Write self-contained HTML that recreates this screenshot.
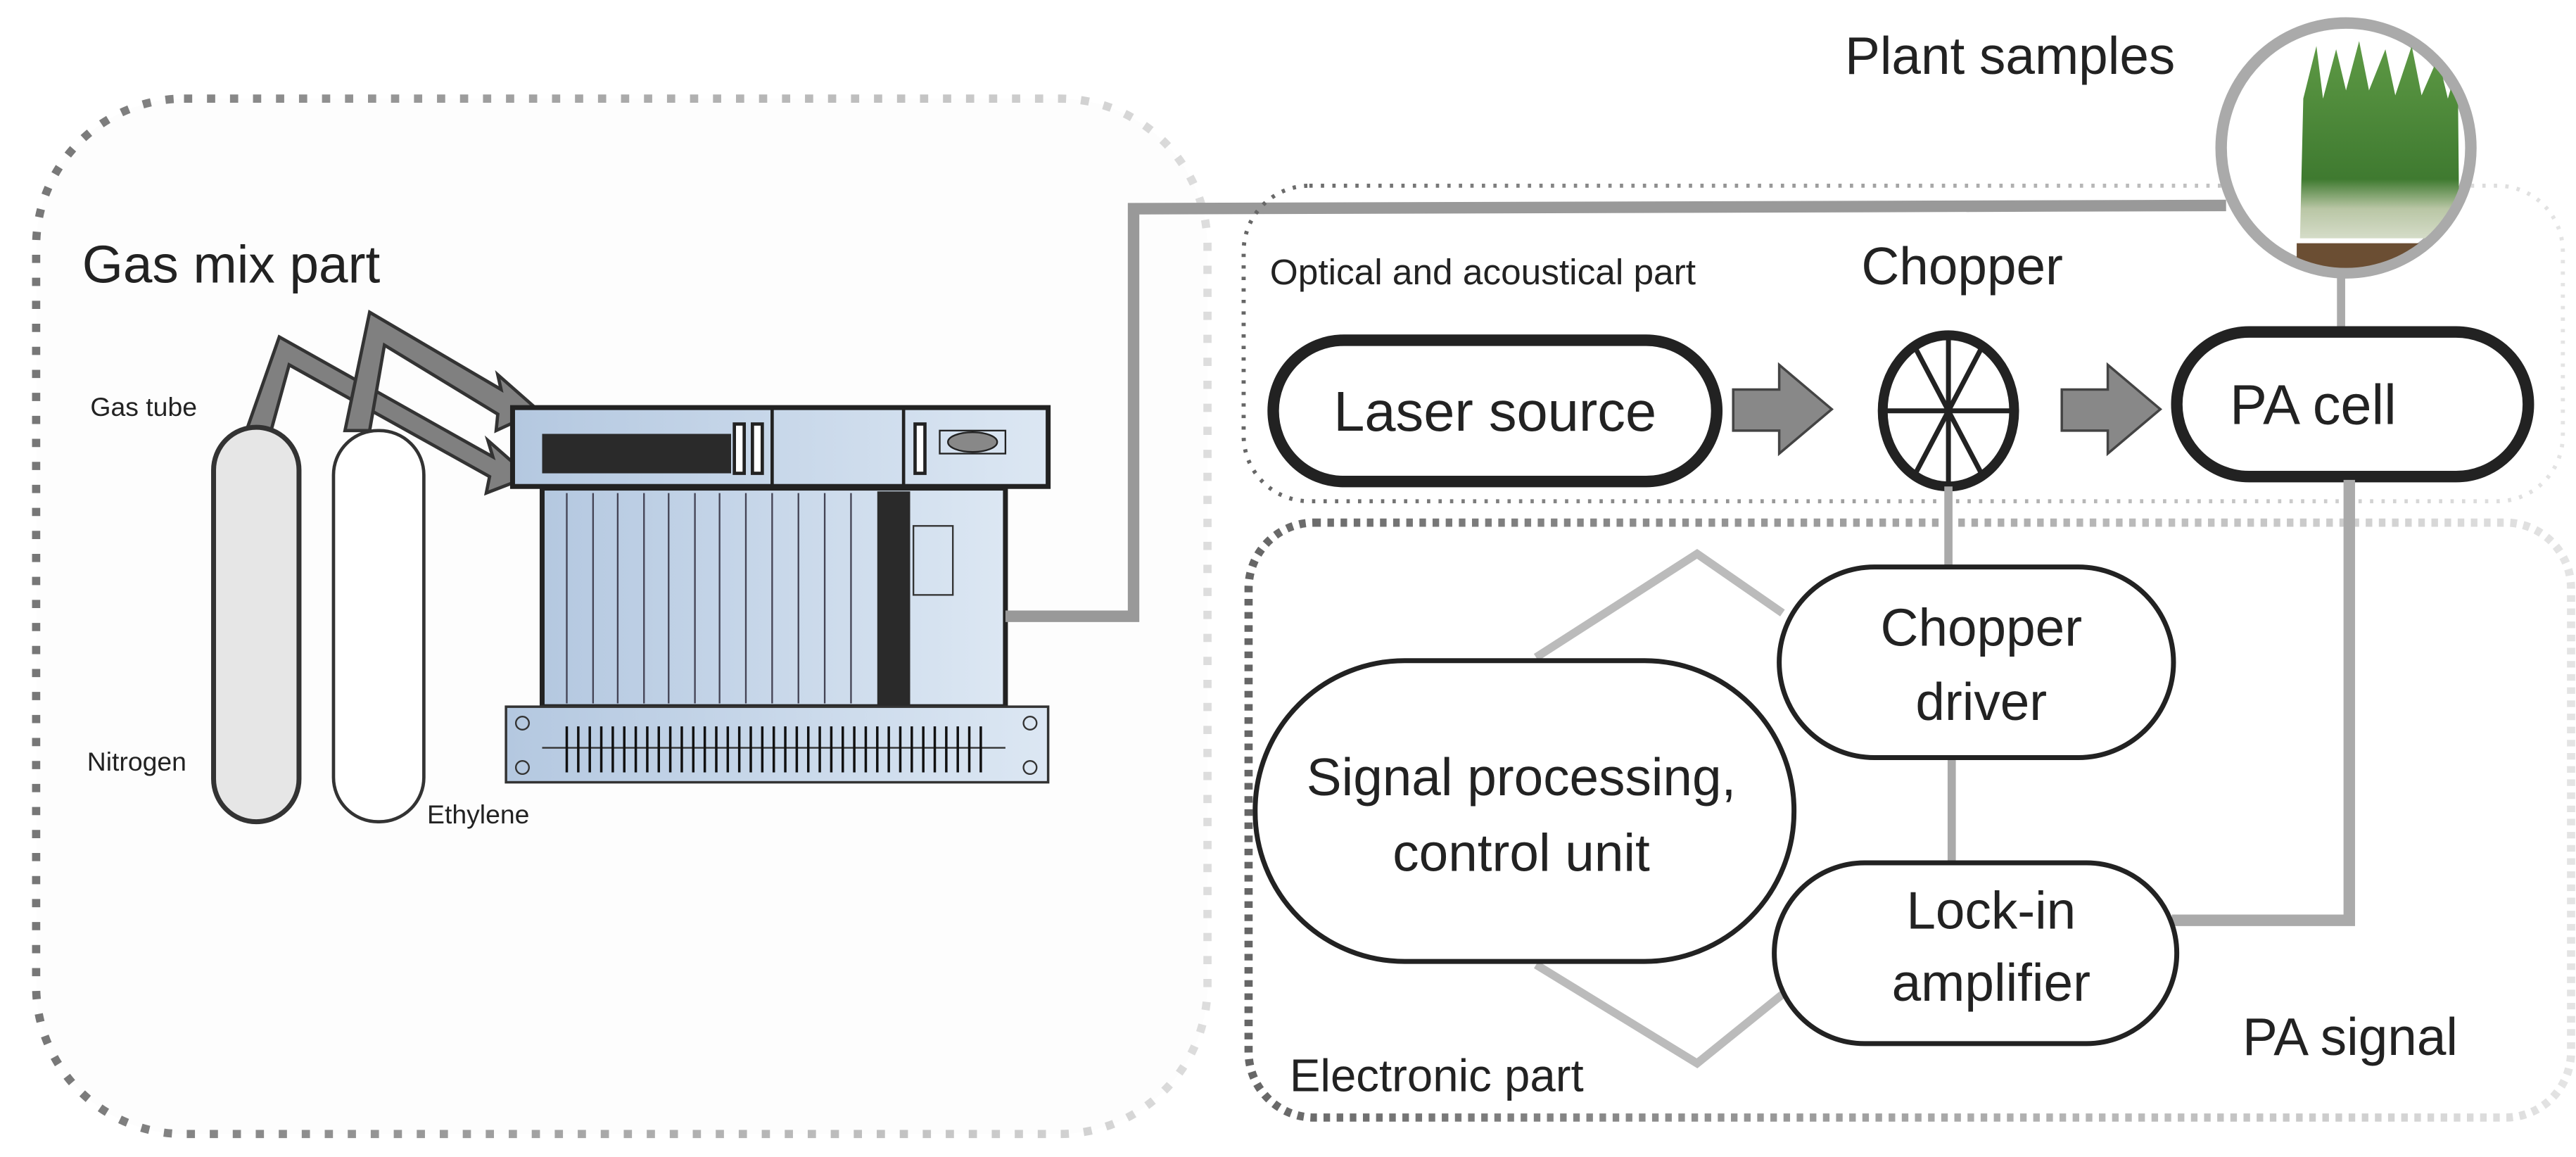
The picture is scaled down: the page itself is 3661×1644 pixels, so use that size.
<!DOCTYPE html>
<html><head><meta charset="utf-8"><style>
html,body{margin:0;padding:0;background:#fff;}
svg{display:block;font-family:"Liberation Sans",sans-serif;}
</style></head><body>
<svg width="3661" height="1644" viewBox="0 0 1568 704" preserveAspectRatio="none" xmlns="http://www.w3.org/2000/svg">
<defs>
<linearGradient id="fade" x1="0" x2="1" y1="0" y2="0"><stop offset="0" stop-color="#777"/><stop offset="1" stop-color="#ddd"/></linearGradient>
<linearGradient id="fade2" x1="0" x2="1" y1="0" y2="0"><stop offset="0" stop-color="#666"/><stop offset="1" stop-color="#e4e4e4"/></linearGradient>
<linearGradient id="bl" x1="0" x2="1"><stop offset="0" stop-color="#b4c8e0"/><stop offset="1" stop-color="#dce7f3"/></linearGradient>
<linearGradient id="grass" x1="0" x2="0" y1="0" y2="1"><stop offset="0" stop-color="#5e9a45"/><stop offset="0.7" stop-color="#3f7a30"/><stop offset="0.85" stop-color="#b9c6a5"/><stop offset="1" stop-color="#d5dcc8"/></linearGradient>
<clipPath id="cc"><circle cx="1428" cy="90" r="73"/></clipPath>
</defs>
<rect width="1568" height="704" fill="#fff"/>
<rect x="22" y="60" width="713" height="630" rx="90" fill="#fdfdfd" stroke="url(#fade)" stroke-width="5" stroke-dasharray="5 9"/>
<text x="50" y="172" font-size="32" fill="#222">Gas mix part</text>
<text x="55" y="253" font-size="16" fill="#222">Gas tube</text>
<text x="53" y="469" font-size="16" fill="#222">Nitrogen</text>
<text x="260" y="501" font-size="16" fill="#222">Ethylene</text>
<polygon points="150,262 170,205 300,278 297,268 322,290 296,300 298,290 176,222 165,262" fill="#808080" stroke="#333" stroke-width="2"/>
<polygon points="210,262 225,190 305,237 303,228 328,250 302,262 303,252 234,210 225,262" fill="#808080" stroke="#333" stroke-width="2"/>
<rect x="130" y="260" width="52" height="240" rx="26" fill="#e6e6e6" stroke="#333" stroke-width="3"/>
<rect x="203" y="262" width="55" height="238" rx="27" fill="#fff" stroke="#333" stroke-width="2"/>
<rect x="312" y="248" width="326" height="48" fill="url(#bl)" stroke="#222" stroke-width="3"/>
<rect x="330" y="264" width="115" height="24" fill="#2a2a2a"/>
<rect x="447" y="258" width="6" height="30" fill="#fff" stroke="#222" stroke-width="2"/>
<rect x="458" y="258" width="6" height="30" fill="#fff" stroke="#222" stroke-width="2"/>
<line x1="470" y1="248" x2="470" y2="296" stroke="#222" stroke-width="2"/>
<line x1="550" y1="248" x2="550" y2="296" stroke="#222" stroke-width="2"/>
<rect x="557" y="258" width="6" height="30" fill="#fff" stroke="#222" stroke-width="2"/>
<rect x="572" y="262" width="40" height="14" fill="none" stroke="#222" stroke-width="1"/>
<ellipse cx="592" cy="269" rx="15" ry="6" fill="#888" stroke="#222"/>
<rect x="330" y="297" width="282" height="133" fill="url(#bl)" stroke="#222" stroke-width="3"/>
<g stroke="#445" stroke-width="1">
<line x1="345" y1="300" x2="345" y2="428"/><line x1="361" y1="300" x2="361" y2="428"/><line x1="376" y1="300" x2="376" y2="428"/><line x1="392" y1="300" x2="392" y2="428"/><line x1="407" y1="300" x2="407" y2="428"/><line x1="423" y1="300" x2="423" y2="428"/><line x1="438" y1="300" x2="438" y2="428"/><line x1="454" y1="300" x2="454" y2="428"/><line x1="470" y1="300" x2="470" y2="428"/><line x1="486" y1="300" x2="486" y2="428"/><line x1="502" y1="300" x2="502" y2="428"/><line x1="518" y1="300" x2="518" y2="428"/>
</g>
<rect x="534" y="299" width="20" height="130" fill="#2a2a2a"/>
<rect x="556" y="320" width="24" height="42" fill="none" stroke="#333" stroke-width="1"/>
<rect x="308" y="430" width="330" height="46" fill="url(#bl)" stroke="#333" stroke-width="1.5"/>
<line x1="330" y1="455" x2="612" y2="455" stroke="#333"/>
<g stroke="#111" stroke-width="1.5">
<path d="M345 442v28M352 442v28M359 442v28M366 442v28M373 442v28M380 442v28M387 442v28M394 442v28M401 442v28M408 442v28M415 442v28M422 442v28M429 442v28M436 442v28M443 442v28M450 442v28M457 442v28M464 442v28M471 442v28M478 442v28M485 442v28M492 442v28M499 442v28M506 442v28M513 442v28M520 442v28M527 442v28M534 442v28M541 442v28M548 442v28M555 442v28M562 442v28M569 442v28M576 442v28M583 442v28M590 442v28M597 442v28"/>
</g>
<g fill="none" stroke="#333"><circle cx="318" cy="440" r="4"/><circle cx="318" cy="467" r="4"/><circle cx="627" cy="440" r="4"/><circle cx="627" cy="467" r="4"/></g>
<polyline points="612,375 690,375 690,127 1355,125" fill="none" stroke="#999" stroke-width="7"/>
<rect x="757" y="113" width="803" height="192" rx="40" fill="none" stroke="url(#fade2)" stroke-width="2.5" stroke-dasharray="2 5"/>
<text x="1123" y="45" font-size="32" fill="#222">Plant samples</text>
<circle cx="1428" cy="90" r="76" fill="#fff" stroke="#aaa" stroke-width="7"/>
<g clip-path="url(#cc)">
<polygon points="1400,145 1402,60 1410,28 1414,60 1422,30 1428,55 1436,25 1442,55 1452,30 1458,58 1468,28 1474,58 1484,35 1490,60 1496,40 1497,145" fill="url(#grass)"/>
<rect x="1398" y="148" width="100" height="16" fill="#6b4e33"/>
</g>
<line x1="1425" y1="167" x2="1425" y2="202" stroke="#aaa" stroke-width="5"/>
<text x="773" y="173" font-size="22" fill="#222">Optical and acoustical part</text>
<text x="1133" y="173" font-size="32" fill="#222">Chopper</text>
<rect x="775" y="207" width="270" height="86" rx="43" fill="#fff" stroke="#222" stroke-width="7"/>
<text x="910" y="262" font-size="34" fill="#222" text-anchor="middle">Laser source</text>
<polygon points="1055,237 1083,237 1083,222 1115,249 1083,276 1083,262 1055,262" fill="#888" stroke="#444" stroke-width="1.5"/>
<polygon points="1255,237 1283,237 1283,222 1315,249 1283,276 1283,262 1255,262" fill="#888" stroke="#444" stroke-width="1.5"/>
<ellipse cx="1186" cy="250" rx="40" ry="46" fill="#fff" stroke="#222" stroke-width="6"/>
<g stroke="#222" stroke-width="3"><line x1="1148" y1="250" x2="1224" y2="250"/><line x1="1186" y1="206" x2="1186" y2="294"/><line x1="1166" y1="212" x2="1206" y2="288"/><line x1="1206" y1="212" x2="1166" y2="288"/></g>
<rect x="1325" y="202" width="214" height="88" rx="44" fill="#fff" stroke="#222" stroke-width="7"/>
<text x="1408" y="258" font-size="34" fill="#222" text-anchor="middle">PA cell</text>
<rect x="760" y="318" width="805" height="362" rx="40" fill="none" stroke="url(#fade2)" stroke-width="5" stroke-dasharray="4 4"/>
<line x1="1186" y1="296" x2="1186" y2="345" stroke="#aaa" stroke-width="5"/>
<line x1="1188" y1="460" x2="1188" y2="525" stroke="#aaa" stroke-width="5"/>
<polyline points="935,400 1033,337 1085,373" fill="none" stroke="#bbb" stroke-width="5"/>
<polyline points="935,587 1033,647 1085,605" fill="none" stroke="#bbb" stroke-width="5"/>
<polyline points="1430,292 1430,560 1322,560" fill="none" stroke="#aaa" stroke-width="7"/>
<rect x="1083" y="345" width="240" height="116" rx="58" fill="#fff" stroke="#222" stroke-width="3"/>
<text x="1206" y="393" font-size="32" fill="#222" text-anchor="middle">Chopper</text>
<text x="1206" y="438" font-size="32" fill="#222" text-anchor="middle">driver</text>
<rect x="764" y="402" width="328" height="183" rx="91" fill="#fff" stroke="#222" stroke-width="3"/>
<text x="926" y="484" font-size="32" fill="#222" text-anchor="middle">Signal processing,</text>
<text x="926" y="530" font-size="32" fill="#222" text-anchor="middle">control unit</text>
<rect x="1080" y="525" width="245" height="110" rx="55" fill="#fff" stroke="#222" stroke-width="3"/>
<text x="1212" y="565" font-size="32" fill="#222" text-anchor="middle">Lock-in</text>
<text x="1212" y="609" font-size="32" fill="#222" text-anchor="middle">amplifier</text>
<text x="1365" y="642" font-size="32" fill="#222">PA signal</text>
<text x="785" y="664" font-size="28" fill="#222">Electronic part</text>
</svg>
</body></html>
